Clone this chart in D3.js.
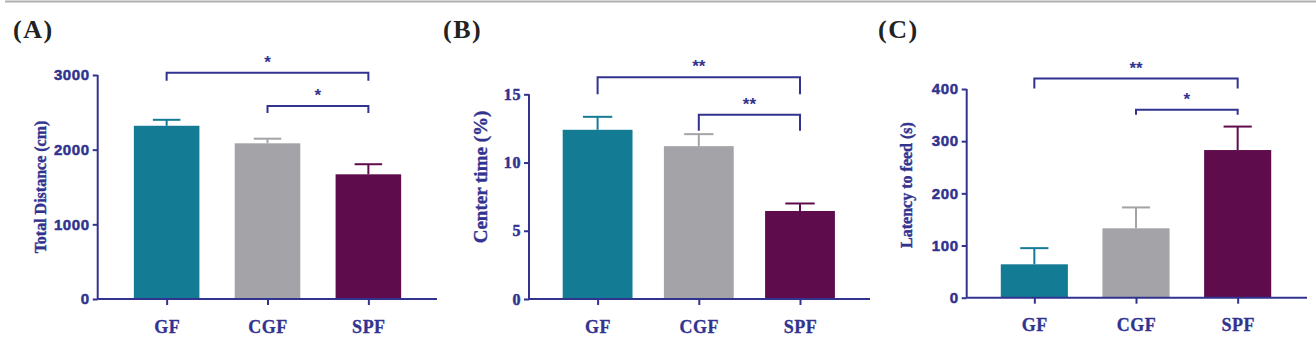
<!DOCTYPE html>
<html><head><meta charset="utf-8">
<script src="https://cdn.jsdelivr.net/npm/d3@7"></script>
<style>
html,body{margin:0;padding:0;background:#fff;}
svg{display:block;}
.serif{font-family:"Liberation Serif","Times New Roman",Times,serif;font-weight:bold;}
.sans{font-family:"Liberation Sans",Arial,Helvetica,sans-serif;font-weight:bold;}
</style></head>
<body>
<svg id="chart" width="1316" height="357"></svg>
<script>
// ---- data ----
const categories = ["GF", "CGF", "SPF"];
const barColors = ["#137b94", "#a3a3a8", "#5e0c4b"];

const distanceMean = [2320, 2085, 1670];
const distanceSEM  = [80, 62, 135];
const distanceTicks = [0, 1000, 2000, 3000];

const centerMean = [12.4, 11.2, 6.45];
const centerSEM  = [0.95, 0.88, 0.55];
const centerTicks = [0, 5, 10, 15];

const latencyMean = [64, 133, 283];
const latencySEM  = [31, 40, 45];
const latencyTicks = [0, 100, 200, 300, 400];

// significance brackets: from group, to group, bracket height (data units), label
const distanceSig = [{from: 0, to: 2, y: 3030, label: "*"}, {from: 1, to: 2, y: 2585, label: "*"}];
const centerSig   = [{from: 0, to: 2, y: 16.25, label: "**"}, {from: 1, to: 2, y: 13.5, label: "**"}];
const latencySig  = [{from: 0, to: 2, y: 420, label: "**"}, {from: 1, to: 2, y: 360, label: "*"}];

const panelLabels = ["(A)", "(B)", "(C)"];
const yTitles = ["Total Distance (cm)", "Center time (%)", "Latency to feed (s)"];

// ---- drawing ----
const svg = d3.select("#chart");
const navy = "#32338f";

svg.append("line").attr("x1", 5).attr("x2", 1316).attr("y1", 1.5).attr("y2", 1.5)
  .attr("stroke", "#b0b0b0").attr("stroke-width", 2);

const panels = [
  {label: panelLabels[0], labelX: 13, title: yTitles[0], titleX: 46, titleY: 187, titleSize: 16,
   mean: distanceMean, sem: distanceSEM, ticks: distanceTicks, sig: distanceSig, domain: [0, 3000],
   axisX: 97.7, y0: 299, yTop: 75, xEnd: 437, band: [116.2, 418.8], pad: 0.35,
   tickCls: "sans", drops: [8, 7]},
  {label: panelLabels[1], labelX: 443, title: yTitles[1], titleX: 487, titleY: 177, titleSize: 19,
   mean: centerMean, sem: centerSEM, ticks: centerTicks, sig: centerSig, domain: [0, 15],
   axisX: 529, y0: 299, yTop: 94.3, xEnd: 870, band: [547, 850.6], pad: 0.31,
   tickCls: "serif", drops: [17, 16]},
  {label: panelLabels[2], labelX: 878, title: yTitles[2], titleX: 912, titleY: 185, titleSize: 16,
   mean: latencyMean, sem: latencySEM, ticks: latencyTicks, sig: latencySig, domain: [0, 400],
   axisX: 966.7, y0: 297.7, yTop: 89, xEnd: 1307, band: [983.5, 1288.5], pad: 0.34,
   tickCls: "sans", drops: [10, 5]}
];

panels.forEach(p => {
  const g = svg.append("g");
  const x = d3.scaleBand().domain(categories).range(p.band).paddingInner(p.pad).paddingOuter(p.pad / 2);
  const y = d3.scaleLinear().domain(p.domain).range([p.y0, p.yTop]);
  const cx = c => x(c) + x.bandwidth() / 2;

  // panel label
  g.append("text").attr("class", "serif").attr("x", p.labelX).attr("y", 38).text(p.label)
    .style("font-size", "26px").attr("fill", "#222").attr("letter-spacing", 1.5);

  // bars
  g.selectAll("rect.bar").data(categories).join("rect")
    .attr("x", d => x(d)).attr("width", x.bandwidth())
    .attr("y", (d, i) => y(p.mean[i])).attr("height", (d, i) => p.y0 - y(p.mean[i]))
    .attr("fill", (d, i) => barColors[i]);

  // error bars
  const capW = x.bandwidth() * 0.42;
  categories.forEach((c, i) => {
    const top = y(p.mean[i] + p.sem[i]);
    g.append("line").attr("x1", cx(c)).attr("x2", cx(c)).attr("y1", y(p.mean[i])).attr("y2", top)
      .attr("stroke", barColors[i]).attr("stroke-width", 2);
    g.append("line").attr("x1", cx(c) - capW / 2).attr("x2", cx(c) + capW / 2).attr("y1", top).attr("y2", top)
      .attr("stroke", barColors[i]).attr("stroke-width", 2);
  });

  // y axis
  const yAxis = g.append("g").attr("transform", `translate(${p.axisX},0)`)
    .call(d3.axisLeft(y).tickValues(p.ticks).tickFormat(d3.format("d")).tickSize(5).tickSizeOuter(0).tickPadding(3));
  yAxis.attr("font-family", null).attr("font-size", null);
  yAxis.select(".domain").attr("stroke", navy).attr("stroke-width", 2)
    .attr("d", `M0,${p.y0}V${p.yTop}`);
  yAxis.selectAll(".tick line").attr("stroke", navy).attr("stroke-width", 2);
  yAxis.selectAll(".tick text").attr("class", p.tickCls).attr("fill", navy)
    .attr("stroke", navy).attr("stroke-width", 0.5)
    .style("font-size", p.tickCls === "sans" ? "15px" : "16px").attr("letter-spacing", 0.6);

  // x axis
  const xs = d3.scalePoint().domain(categories).range([cx(categories[0]), cx(categories[2])]);
  const xAxis = g.append("g").attr("transform", `translate(0,${p.y0})`)
    .call(d3.axisBottom(xs).tickSize(6).tickSizeOuter(0).tickPadding(15));
  xAxis.attr("font-family", null).attr("font-size", null);
  xAxis.select(".domain").attr("stroke", navy).attr("stroke-width", 2)
    .attr("d", `M${p.axisX},0H${p.xEnd}`);
  xAxis.selectAll(".tick line").attr("stroke", navy).attr("stroke-width", 2);
  xAxis.selectAll(".tick text").attr("class", "serif").attr("fill", navy)
    .attr("stroke", navy).attr("stroke-width", 0.3)
    .style("font-size", "18px").attr("letter-spacing", 0.5);

  // y title
  g.append("text").attr("class", "serif").attr("transform", `translate(${p.titleX},${p.titleY}) rotate(-90)`)
    .attr("text-anchor", "middle").text(p.title)
    .attr("stroke", navy).attr("stroke-width", 0.4)
    .style("font-size", p.titleSize + "px").attr("fill", navy);

  // significance brackets
  p.sig.forEach((s, k) => {
    const x1 = cx(categories[s.from]), x2 = cx(categories[s.to]);
    const yy = y(s.y), drop = p.drops[k];
    g.append("path").attr("d", `M${x1},${yy + drop}V${yy}H${x2}V${yy + drop}`)
      .attr("fill", "none").attr("stroke", navy).attr("stroke-width", 2);
    g.append("text").attr("class", "sans").attr("x", (x1 + x2) / 2).attr("y", yy - 5).attr("text-anchor", "middle")
      .text(s.label).style("font-size", "17px").attr("fill", navy);
  });
});
</script>
</body></html>
